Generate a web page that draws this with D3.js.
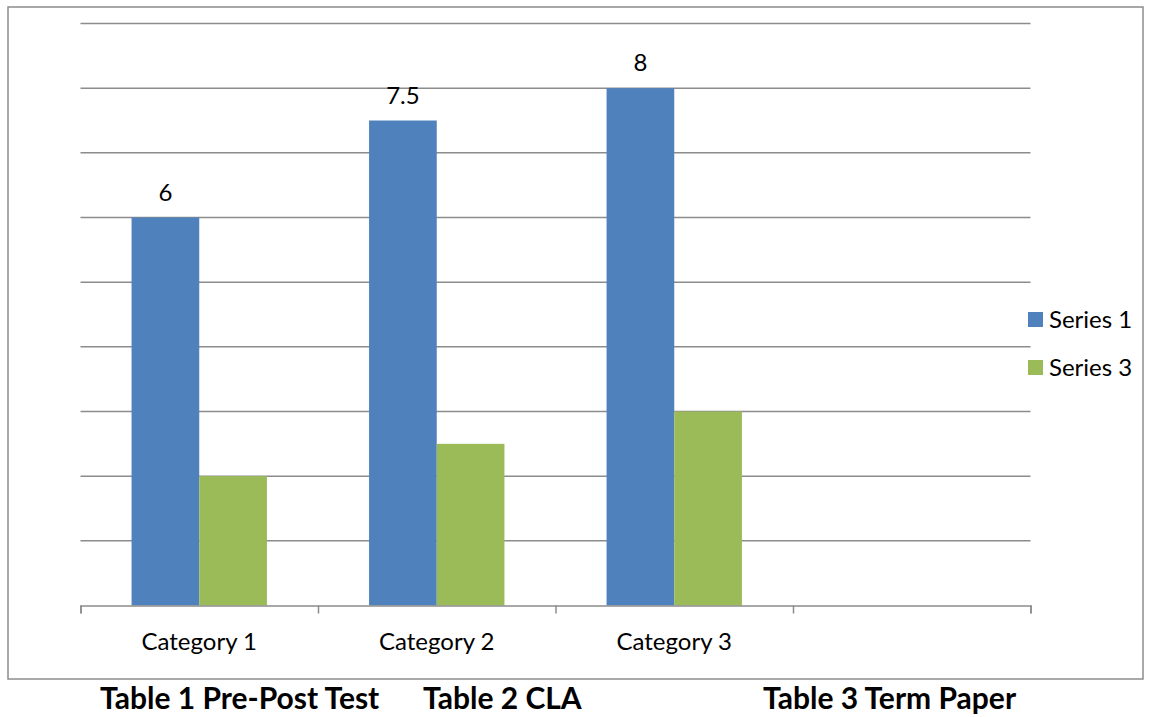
<!DOCTYPE html>
<html>
<head>
<meta charset="utf-8">
<script src="https://cdn.jsdelivr.net/npm/d3@7/dist/d3.min.js"></script>
<style>
  html, body { margin: 0; padding: 0; background: #fff; }
  svg { display: block; font-family: Lato, "Open Sans", sans-serif; }
</style>
</head>
<body>
<svg id="chart" width="1150" height="717"></svg>
<script>
// Chart data
const categories = ["Category 1", "Category 2", "Category 3", ""];
const seriesNames = ["Series 1", "Series 3"];
const series1 = [6, 7.5, 8, null];
const series3 = [2, 2.5, 3, null];
const seriesColors = ["#4F81BD", "#9BBB59"];
const yTicks = [0, 1, 2, 3, 4, 5, 6, 7, 8, 9];
const captions = ["Table 1 Pre-Post Test", "Table 2 CLA", "Table 3 Term Paper"];
const captionX = [100, 423, 763];

const svg = d3.select("#chart");
const plot = { left: 80.5, right: 1030.5, top: 23.5, bottom: 605.5 };

// Outer chart frame
svg.append("rect")
  .attr("x", 8).attr("y", 7).attr("width", 1135).attr("height", 672)
  .attr("fill", "none").attr("stroke", "#8c8c8c").attr("stroke-width", 1.5);

const x0 = d3.scaleBand()
  .domain(d3.range(categories.length))
  .range([plot.left, plot.right])
  .paddingInner(0.43).paddingOuter(0.215);
const step = x0.step();
const x1 = d3.scaleBand().domain(seriesNames).range([0, x0.bandwidth()]);
const y = d3.scaleLinear().domain([0, 9]).range([plot.bottom, plot.top]);

// Horizontal gridlines
svg.append("g").selectAll("line")
  .data(yTicks.slice(1))
  .join("line")
  .attr("x1", plot.left).attr("x2", plot.right)
  .attr("y1", d => y(d)).attr("y2", d => y(d))
  .attr("stroke", "#8c8c8c").attr("stroke-width", 1.5);

// Bars
const rows = categories.map((c, i) => ({ i, values: [series1[i], series3[i]] }));
const groups = svg.append("g").selectAll("g")
  .data(rows)
  .join("g")
  .attr("transform", d => `translate(${x0(d.i)},0)`);

groups.selectAll("rect")
  .data(d => d.values.map((v, k) => ({ v, k })).filter(e => e.v != null))
  .join("rect")
  .attr("x", e => x1(seriesNames[e.k]))
  .attr("width", x1.bandwidth())
  .attr("y", e => y(e.v))
  .attr("height", e => y(0) - y(e.v))
  .attr("fill", e => seriesColors[e.k]);

// Value labels on Series 1
groups.filter(d => d.values[0] != null)
  .append("text")
  .attr("x", x1(seriesNames[0]) + x1.bandwidth() / 2)
  .attr("y", d => y(d.values[0]) - 17)
  .attr("text-anchor", "middle")
  .attr("font-size", 24)
  .attr("fill", "#000")
  .text(d => d.values[0]);

// Category axis
const xAxis = d3.axisBottom(d3.scaleLinear().domain([0, categories.length]).range([plot.left, plot.right]))
  .tickValues(d3.range(categories.length + 1))
  .tickSize(8)
  .tickFormat("");
const axisG = svg.append("g").attr("transform", `translate(0,${plot.bottom})`).call(xAxis);
axisG.select(".domain").attr("stroke", "#8c8c8c").attr("stroke-width", 1.5);
axisG.selectAll(".tick line").attr("stroke", "#8c8c8c").attr("stroke-width", 1.5);

svg.append("g").selectAll("text")
  .data(categories)
  .join("text")
  .attr("x", (d, i) => plot.left + step * (i + 0.5))
  .attr("y", 650)
  .attr("text-anchor", "middle")
  .attr("font-size", 24)
  .attr("fill", "#000")
  .text(d => d);

// Legend
const legend = svg.append("g").selectAll("g")
  .data(seriesNames)
  .join("g")
  .attr("transform", (d, i) => `translate(1028,${312 + i * 48})`);
legend.append("rect").attr("width", 15).attr("height", 15)
  .attr("fill", (d, i) => seriesColors[i]);
legend.append("text").attr("x", 21).attr("y", 16)
  .attr("font-size", 24).attr("fill", "#000").text(d => d);

// Captions below the chart
svg.append("g").selectAll("text")
  .data(captions)
  .join("text")
  .attr("x", (d, i) => captionX[i])
  .attr("y", 709)
  .attr("font-size", 30)
  .attr("font-weight", "bold")
  .attr("fill", "#000")
  .text(d => d);
</script>
</body>
</html>
